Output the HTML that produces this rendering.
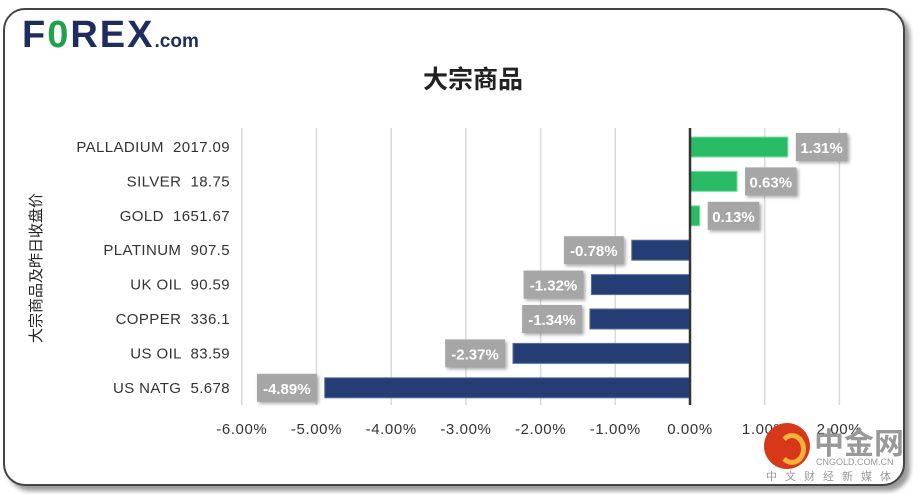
<!DOCTYPE html>
<html><head><meta charset="utf-8"><style>
body{margin:0;width:920px;height:494px;background:#fff;overflow:hidden;font-family:"Liberation Sans","Noto Sans CJK SC",sans-serif}
#frame{position:absolute;left:3px;top:8px;width:898px;height:474px;border:2px solid #444;border-radius:22px;box-shadow:5px 5px 5px #999;background:#fff}
#chart text{white-space:pre}
</style></head><body>
<div id="frame"></div>
<div style="position:absolute;left:22px;top:14px;font:900 38px 'Liberation Sans',sans-serif;color:#1c2d5e;letter-spacing:2px;white-space:nowrap">F<span style="color:#1fa24a">0</span>REX<span style="font-size:19px;letter-spacing:0">.com</span></div>
<div style="position:absolute;left:0;width:946px;top:60px;text-align:center;font-size:25px;font-weight:bold;color:#222;font-family:'Liberation Sans','Noto Sans CJK SC',sans-serif">大宗商品</div>
<svg id="chart" width="920" height="494" style="position:absolute;left:0;top:0" xmlns="http://www.w3.org/2000/svg"></svg>
<div style="position:absolute;left:764px;top:423px;width:150px;height:60px;white-space:nowrap">
<div style="position:absolute;left:0;top:0;width:46px;height:46px;border-radius:50%;background:#d8381a"></div>
<div style="position:absolute;left:14px;top:10px;width:18px;height:22px;border-radius:50%;border:5px solid #f3b23a;border-left-color:transparent"></div>
<div style="position:absolute;left:50px;top:-4px;font-size:30px;font-weight:bold;color:#999;font-family:'Noto Sans CJK SC',sans-serif">中金网</div>
<div style="position:absolute;left:52px;top:34px;font-size:9px;color:#999">CNGOLD.COM.CN</div>
<div style="position:absolute;left:2px;top:45px;font-size:11px;color:#999;letter-spacing:8px;font-family:'Noto Sans CJK SC',sans-serif">中文财经新媒体</div>
</div>
<script>
const categories=["PALLADIUM  2017.09","SILVER  18.75","GOLD  1651.67","PLATINUM  907.5","UK OIL  90.59","COPPER  336.1","US OIL  83.59","US NATG  5.678"];
const values=[1.31,0.63,0.13,-0.78,-1.32,-1.34,-2.37,-4.89];
const ticks=[-6,-5,-4,-3,-2,-1,0,1,2];
const svg=document.getElementById('chart');const NS='http://www.w3.org/2000/svg';
const x0=690,ppu=74.7,top0=130,rowH=34.4;
const X=v=>x0+v*ppu;const Y=i=>top0+i*rowH;
function mk(t,a,p){const e=document.createElementNS(NS,t);for(const k in a)e.setAttribute(k,a[k]);(p||svg).appendChild(e);return e;}
const defs=mk('defs',{});const f=mk('filter',{id:'sh',x:'-20%',y:'-20%',width:'150%',height:'150%'},defs);
mk('feDropShadow',{dx:2,dy:2,stdDeviation:1.5,'flood-color':'#555','flood-opacity':0.5},f);
ticks.forEach(t=>{if(t===0)return;const l=mk('line',{x1:X(t),x2:X(t),y1:128,y2:405,stroke:'#d9d9d9','stroke-width':1.5});
});
ticks.forEach(t=>{const e=mk('text',{x:X(t),y:434,'text-anchor':'middle','font-size':15,'letter-spacing':0.6,fill:'#333'});e.textContent=t.toFixed(2)+'%';
});
categories.forEach((c,i)=>{const cy=Y(i)+17;
const t=mk('text',{x:230,y:cy+5,'text-anchor':'end','font-size':15,'letter-spacing':0.4,fill:'#333'});t.textContent=c;

const v=values[i];const x1=Math.min(X(0),X(v)),w=Math.abs(X(v)-X(0));
const b=mk('rect',{x:x1,y:cy-10,width:w,height:20,fill:v>=0?'#2abb66':'#243e75',stroke:v>=0?'#7ee0a4':'#5a6f9e','stroke-width':1});

const txt=v.toFixed(2)+'%';const bw=txt.length*8.3+10;const bx=v>=0?X(v)+8:X(v)-8-bw;
const r=mk('rect',{x:bx,y:cy-14,width:bw,height:28,fill:'#a6a6a6',filter:'url(#sh)'});

const vt=mk('text',{x:bx+bw/2,y:cy+6,'text-anchor':'middle','font-size':15,'font-weight':'bold',fill:'#fff'});vt.textContent=txt;
});
const ax=mk('line',{x1:x0,x2:x0,y1:128,y2:405,stroke:'#333','stroke-width':2.5});

const yt=mk('text',{x:0,y:0,transform:'translate(41,268) rotate(-90)','text-anchor':'middle','font-size':15,fill:'#222','font-family':'Liberation Sans,Noto Sans CJK SC,sans-serif'});
yt.textContent='大宗商品及昨日收盘价';
</script>
</body></html>
